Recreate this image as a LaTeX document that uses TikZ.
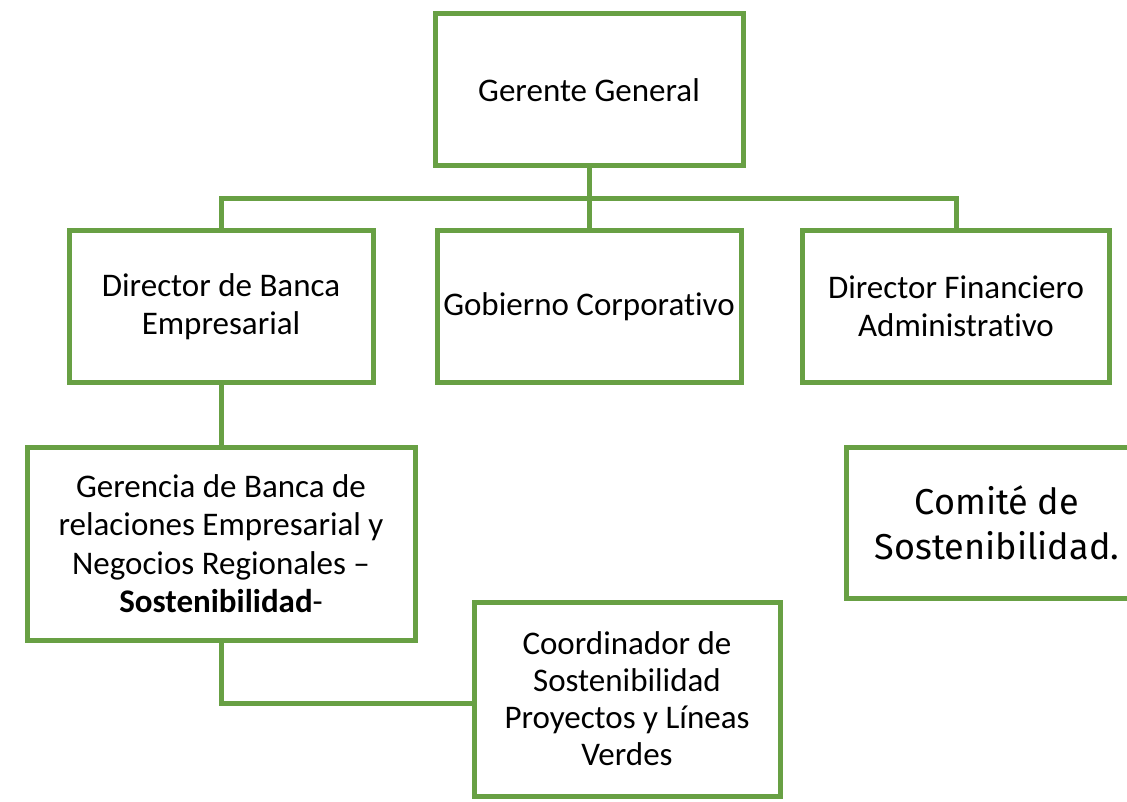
\documentclass[tikz,border=0pt]{standalone}
\usepackage{fontspec}
\setmainfont{Carlito}[Ligatures={TeX,NoCommon}]
\newfontfamily\comitefont{Fira Sans}
\definecolor{boxgreen}{RGB}{104,160,68}
\tikzset{
  orgbox/.style={draw=boxgreen, line width=5pt, rectangle, align=center, inner sep=0pt,
    font=\fontsize{33}{38.5}\selectfont, text=black},
  conn/.style={draw=boxgreen, line width=5pt, line join=miter}
}
\begin{document}
\begin{tikzpicture}[x=1pt,y=-1pt]
\useasboundingbox (0,0) rectangle (1127,802);
\clip (0,0) rectangle (1127,802);
\node[orgbox, minimum width=308pt, minimum height=152pt] (gg) at (589,90) {Gerente General};
\node[orgbox, minimum width=304pt, minimum height=151pt] (dbe) at (221,306.5) {Director de Banca\\Empresarial};
\node[orgbox, minimum width=304pt, minimum height=151pt] (gc) at (589,306.5) {Gobierno Corporativo};
\node[orgbox, minimum width=307pt, minimum height=151pt] (dfa) at (956,306.5) {Director Financiero\\Administrativo};
\node[orgbox, minimum width=388pt, minimum height=193pt] (ger) at (221,543.5) {Gerencia de Banca de\\relaciones Empresarial y\\Negocios Regionales –\\\textbf{Sostenibilidad}-};
\node[orgbox, minimum width=306pt, minimum height=194pt, font=\fontsize{33}{37}\selectfont] (coo) at (627,699) {Coordinador de\\Sostenibilidad\\Proyectos y Líneas\\Verdes};
\node[orgbox, minimum width=302pt, minimum height=151pt, font=\comitefont\fontsize{36}{45}\selectfont] (com) at (997,522.5) {Comité de\\Sostenibilidad.};
\coordinate (bus) at (589,199);
\coordinate (busL) at (221,199);
\coordinate (busR) at (956,199);
\coordinate (bend) at (221,703);
\draw[conn] (gg.south) -- (bus);
\draw[conn] (dbe.north) -- (busL) -- (busR) -- (dfa.north);
\draw[conn] (bus) -- (gc.north);
\draw[conn] (dbe.south) -- (ger.north);
\draw[conn] (ger.south) -- (bend) -- (bend -| coo.west);
\end{tikzpicture}
\end{document}
